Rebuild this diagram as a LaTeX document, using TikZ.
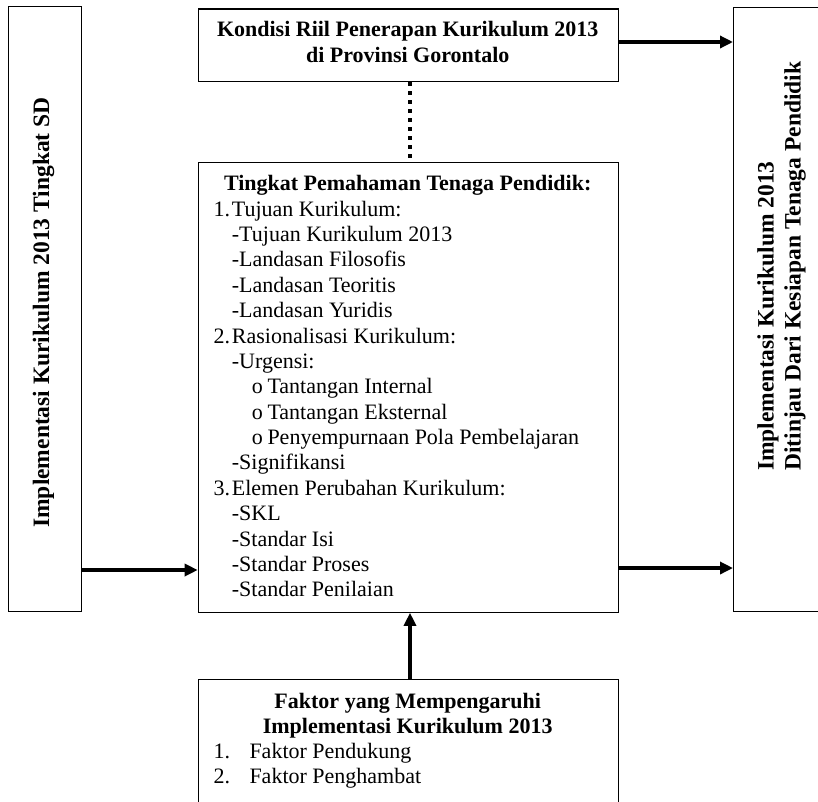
\documentclass[tikz,border=0pt]{standalone}
\usepackage{fontspec}
\setmainfont{Liberation Serif}
\usetikzlibrary{arrows.meta}
\newcommand\fsz{\fontsize{22}{25.4}\selectfont}
\newcommand\fszr{\fontsize{23.5}{27}\selectfont}
\begin{document}
\begin{tikzpicture}[x=1pt,y=-1pt,
  box/.style={draw=black, line width=1.3pt, inner sep=0pt, anchor=north west},
  conn/.style={line width=4pt, -{Triangle[length=13pt,width=12pt]}},
  dots/.style={line width=4pt, dash pattern=on 4pt off 5pt},
  txt/.style={inner sep=0pt, anchor=base west, font=\fsz},
  ttl/.style={inner sep=0pt, anchor=base, font=\fsz\bfseries}]
\useasboundingbox (0,0) rectangle (818,801);

% boxes
\node[box, minimum width=73pt, minimum height=605pt] (leftb) at (8,6) {};
\node[box, minimum width=420pt, minimum height=72.7pt] (topb) at (197.7,8.3) {};
\node[box, minimum width=420pt, minimum height=449.5pt] (midb) at (197.7,162) {};
\node[box, minimum width=420pt, minimum height=171pt] (botb) at (197.7,679) {};
\node[box, minimum width=137pt, minimum height=604pt] (rightb) at (733,7) {};

% left & right rotated texts
\node[rotate=90, inner sep=0pt, font=\fszr\bfseries] (ltext) at (43.5,312.5) {Implementasi Kurikulum 2013 Tingkat SD};
\node[rotate=90, inner sep=0pt, anchor=west, align=left, font=\fszr\bfseries] (rtext) at (781.5,471)
  {Implementasi Kurikulum 2013\\Ditinjau Dari Kesiapan Tenaga Pendidik};

% top box text
\node[ttl] (t1) at (407.7,36.5) {Kondisi Riil Penerapan Kurikulum 2013};
\node[ttl] (t2) at (407.7,62) {di Provinsi Gorontalo};

% middle box text
\node[ttl] (m0) at (407.7,190.7) {Tingkat Pemahaman Tenaga Pendidik:};
\node[txt] (m1n) at (213.3,216.1) {1.};
\node[txt] (m1) at (231.7,216.1) {Tujuan Kurikulum:};
\node[txt] (m2) at (231.7,241.5) {-Tujuan Kurikulum 2013};
\node[txt] (m3) at (231.7,266.8) {-Landasan Filosofis};
\node[txt] (m4) at (231.7,292.2) {-Landasan Teoritis};
\node[txt] (m5) at (231.7,317.6) {-Landasan Yuridis};
\node[txt] (m6n) at (213.3,343.0) {2.};
\node[txt] (m6) at (231.7,343.0) {Rasionalisasi Kurikulum:};
\node[txt] (m7) at (231.7,368.4) {-Urgensi:};
\node[txt] (m8o) at (251.7,393.7) {o};
\node[txt] (m8) at (267.3,393.7) {Tantangan Internal};
\node[txt] (m9o) at (251.7,419.1) {o};
\node[txt] (m9) at (267.3,419.1) {Tantangan Eksternal};
\node[txt] (m10o) at (251.7,444.5) {o};
\node[txt] (m10) at (267.3,444.5) {Penyempurnaan Pola Pembelajaran};
\node[txt] (m11) at (231.7,469.9) {-Signifikansi};
\node[txt] (m12n) at (213.3,495.3) {3.};
\node[txt] (m12) at (231.7,495.3) {Elemen Perubahan Kurikulum:};
\node[txt] (m13) at (231.7,520.7) {-SKL};
\node[txt] (m14) at (231.7,546.0) {-Standar Isi};
\node[txt] (m15) at (231.7,571.4) {-Standar Proses};
\node[txt] (m16) at (231.7,596.8) {-Standar Penilaian};

% bottom box text
\node[ttl] (b1) at (407.7,708) {Faktor yang Mempengaruhi};
\node[ttl] (b2) at (407.7,733) {Implementasi Kurikulum 2013};
\node[txt] (b3n) at (213.3,758) {1.};
\node[txt] (b3) at (249.3,758) {Faktor Pendukung};
\node[txt] (b4n) at (213.3,783) {2.};
\node[txt] (b4) at (249.3,783) {Faktor Penghambat};

% connectors
\coordinate (ya) at (0,42);
\coordinate (yb) at (0,570);
\coordinate (yc) at (0,568);
\coordinate (xd) at (410,0);
\draw[conn] (topb.east |- ya) -- (rightb.west |- ya);
\draw[conn] (leftb.east |- yb) -- (midb.west |- yb);
\draw[conn] (midb.east |- yc) -- (rightb.west |- yc);
\draw[conn] (xd |- botb.north) -- (xd |- midb.south);
\draw[dots] (xd |- topb.south) -- (xd |- midb.north);
\end{tikzpicture}
\end{document}
